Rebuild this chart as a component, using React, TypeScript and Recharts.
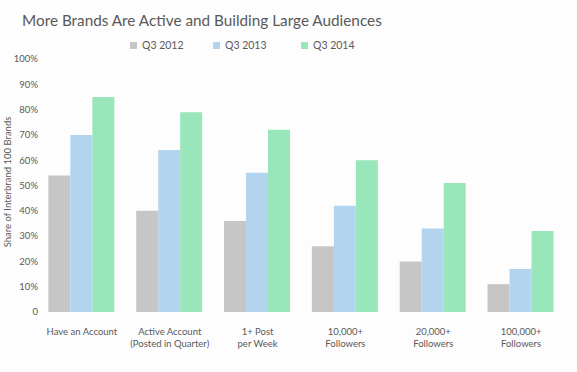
import { BarChart, Bar, XAxis, YAxis } from "recharts";

const categories = [
  "Have an Account",
  "Active Account\n(Posted in Quarter)",
  "1+ Post\nper Week",
  "10,000+\nFollowers",
  "20,000+\nFollowers",
  "100,000+\nFollowers",
];
const q3_2012 = [54, 40, 36, 26, 20, 11];
const q3_2013 = [70, 64, 55, 42, 33, 17];
const q3_2014 = [85, 79, 72, 60, 51, 32];
const yTicks = [0, 10, 20, 30, 40, 50, 60, 70, 80, 90, 100];

const series = [
  { key: "q2012", name: "Q3 2012", color: "#c6c6c6", left: 130 },
  { key: "q2013", name: "Q3 2013", color: "#b3d4ef", left: 213 },
  { key: "q2014", name: "Q3 2014", color: "#99e6bb", left: 301 },
];

const data = categories.map((name, i) => ({
  name,
  q2012: q3_2012[i],
  q2013: q3_2013[i],
  q2014: q3_2014[i],
}));

const FONT = "Lato, 'Open Sans', sans-serif";
const TEXT = "#595959";

const CategoryTick = ({ x, y, payload }: any) => {
  const lines = String(payload.value).split("\n");
  return (
    <text
      x={x}
      y={y}
      textAnchor="middle"
      fill={TEXT}
      fontSize={9.5}
      fontFamily={FONT}
    >
      {lines.map((l, i) => (
        <tspan key={i} x={x} dy={i === 0 ? 21 : 11.5}>
          {l}
        </tspan>
      ))}
    </text>
  );
};

export default function App() {
  return (
    <div
      style={{
        position: "absolute",
        left: 0,
        top: 0,
        width: 577,
        height: 372,
        background: "#fdfdfd",
      }}
    >
      <div
        style={{
          position: "absolute",
          left: 22,
          top: 11,
          fontFamily: FONT,
          fontSize: 15.3,
          color: TEXT,
          whiteSpace: "nowrap",
        }}
      >
        More Brands Are Active and Building Large Audiences
      </div>
      {series.map((s) => (
        <div
          key={s.key}
          style={{
            position: "absolute",
            left: s.left,
            top: 38,
            height: 14,
            display: "flex",
            alignItems: "center",
            fontFamily: FONT,
            fontSize: 10.5,
            color: TEXT,
            whiteSpace: "nowrap",
          }}
        >
          <span
            style={{
              width: 7,
              height: 7,
              background: s.color,
              display: "inline-block",
              marginRight: 5,
            }}
          />
          {s.name}
        </div>
      ))}
      <div
        style={{
          position: "absolute",
          left: 7,
          top: 182,
          transform: "translate(-50%, -50%) rotate(-90deg)",
          fontFamily: FONT,
          fontSize: 9.5,
          color: TEXT,
          whiteSpace: "nowrap",
        }}
      >
        Share of Interbrand 100 Brands
      </div>
      <BarChart
        width={577}
        height={372}
        data={data}
        margin={{ top: 59, right: 12, bottom: 20, left: 2 }}
        barGap={0}
        barCategoryGap="11.8%"
      >
        <XAxis
          dataKey="name"
          axisLine={false}
          tickLine={false}
          tickSize={0}
          height={40}
          interval={0}
          tick={<CategoryTick />}
        />
        <YAxis
          width={36}
          domain={[0, 100]}
          ticks={yTicks}
          axisLine={false}
          tickLine={false}
          tickSize={0}
          tickMargin={0}
          tick={{ fill: TEXT, fontSize: 9.5, fontFamily: FONT }}
          tickFormatter={(v: number) => (v === 0 ? "0" : `${v}%`)}
        />
        {series.map((s) => (
          <Bar
            key={s.key}
            dataKey={s.key}
            name={s.name}
            fill={s.color}
            isAnimationActive={false}
          />
        ))}
      </BarChart>
    </div>
  );
}
